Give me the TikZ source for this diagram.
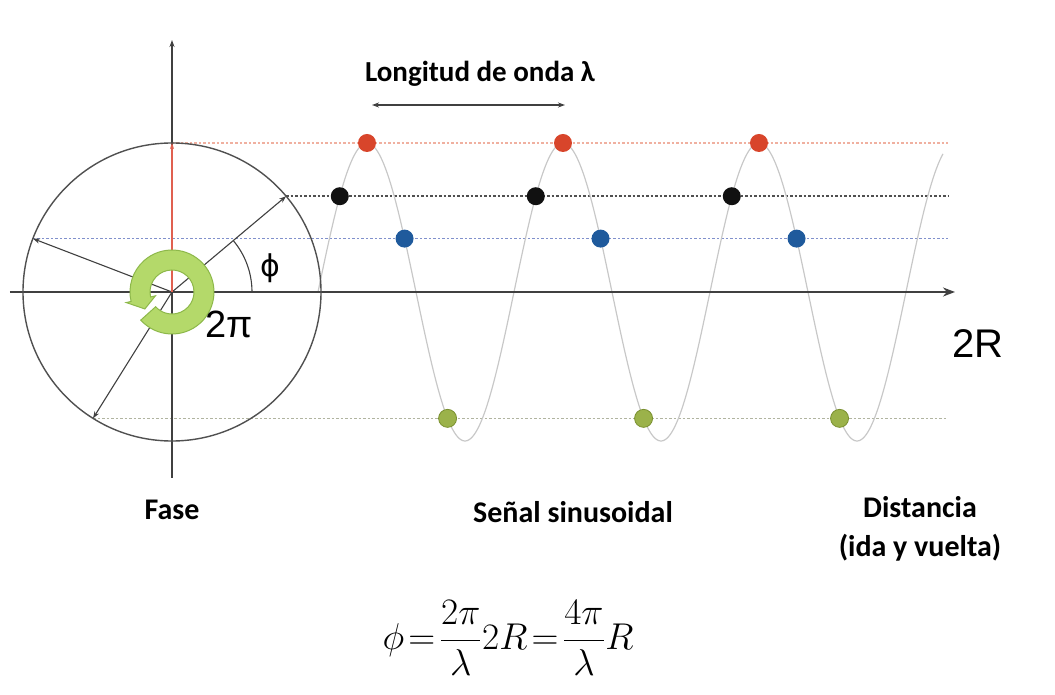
\documentclass[tikz,border=0pt]{standalone}
\usepackage{graphicx}
\usepackage{fontspec}
\newfontfamily\lblfont{Carlito}
\newfontfamily\arialfont{Liberation Sans}
\newfontfamily\dejafont{DejaVu Sans}
\usetikzlibrary{arrows.meta}
\definecolor{axisc}{HTML}{404040}
\definecolor{circc}{HTML}{505050}
\definecolor{redln}{HTML}{E06050}
\definecolor{reddot}{HTML}{D8452B}
\definecolor{blkdot}{HTML}{111111}
\definecolor{bludot}{HTML}{1F5A9C}
\definecolor{grndot}{HTML}{9BB24A}
\definecolor{grnedge}{HTML}{7A9030}
\definecolor{ringfill}{HTML}{B4D96A}
\definecolor{ringedge}{HTML}{8DB84A}
\definecolor{wavec}{HTML}{C8C8C8}
\definecolor{dotred}{HTML}{F0B0A0}
\definecolor{dotblk}{HTML}{505050}
\definecolor{dotblu}{HTML}{8090CC}
\definecolor{dotgrn}{HTML}{B0B4A0}
\begin{document}
\begin{tikzpicture}[x=1pt,y=1pt,
  axisline/.style={draw=axisc,line width=1.4pt},
  radarrow/.style={draw=axisc,line width=1.1pt,-{Stealth[length=7pt,width=5pt]}},
  dotline/.style={line width=1.6pt,dash pattern=on 2.5pt off 2pt},
  wavestyle/.style={draw=wavec,line width=1.2pt},
  dotnode/.style={circle,inner sep=0pt,minimum size=18pt},
  lbl/.style={font=\lblfont\bfseries\fontsize{30}{36}\selectfont,inner sep=0pt},
  sans/.style={font=\arialfont\fontsize{38}{44}\selectfont,inner sep=0pt}
]
\useasboundingbox (-172,-403) rectangle (883,292);
\pgfmathsetmacro{\kk}{196/360}
% dotted levels
\coordinate (rs) at (90:149pt);
\coordinate (bs) at (40:149pt);
\coordinate (ls) at (159:149pt);
\coordinate (gs) at (238:149pt);
\coordinate (re) at (776,{149*sin(90)});
\coordinate (be) at (776,{149*sin(40)});
\coordinate (le) at (776,{149*sin(159)});
\coordinate (ge) at (776,{149*sin(238)});
\draw[dotline,draw=dotred] (rs) -- (re);
\draw[dotline,draw=dotblk] (bs) -- (be);
\draw[dotline,draw=dotblu] (ls) -- (le);
\draw[dotline,draw=dotgrn] (gs) -- (ge);
% wave
\draw[wavestyle] plot[domain=0:1148,samples=400,smooth] ({146+\x*\kk},{149*sin(\x)});
% axes
\coordinate (o) at (0,0);
\coordinate (xl) at (-162,0);
\coordinate (xr) at (783,0);
\coordinate (yb) at (0,-186);
\coordinate (yt) at (0,252);
\draw[axisline,line width=2.2pt,-{Stealth[length=12pt,width=9pt]}] (xl) -- (xr);
\draw[axisline,-{Stealth[length=7pt,width=5pt]}] (yb) -- (yt);
% circle
\node[draw=circc,line width=1.4pt,circle,minimum size=298pt,inner sep=0pt] (circ) at (o) {};
% radius arrows
\draw[radarrow] (o) -- (bs);
\draw[radarrow] (o) -- (ls);
\draw[radarrow] (o) -- (gs);
\draw[draw=redln,line width=1.4pt,-{Stealth[length=6pt,width=4pt]}] (o) -- (rs);
% angle arc
\draw[draw=axisc,line width=1.1pt] (80pt,0) arc[start angle=0,end angle=40,radius=80pt];
\node[font=\dejafont\fontsize{30}{36}\selectfont,inner sep=0pt] (phil) at (98,24) {ϕ};
% green ring arrow
\filldraw[fill=ringfill,draw=ringedge,line width=1pt]
  (-138:42pt) arc[start angle=-138,end angle=193,radius=42pt]
  -- (193:47pt) -- (212:32pt) -- (193:17pt) -- (193:22pt)
  arc[start angle=193,end angle=-138,radius=22pt] -- cycle;
\node[sans,anchor=base west] (twopi) at (33,-46) {2π};
\node[sans,font=\arialfont\fontsize{40}{46}\selectfont,anchor=base west] (twoR) at (780,-66) {2R};
% dots
\foreach \k in {0,1,2}{
  \node[dotnode,fill=reddot] (r\k) at ({146+(90+360*\k)*\kk},{149*sin(90)}) {};
  \node[dotnode,fill=blkdot] (b\k) at ({146+(40+360*\k)*\kk},{149*sin(40)}) {};
  \node[dotnode,fill=bludot] (l\k) at ({146+(159+360*\k)*\kk},{149*sin(159)}) {};
  \node[dotnode,fill=grndot,draw=grnedge,line width=0.8pt] (g\k) at ({146+(238+360*\k)*\kk},{149*sin(238)}) {};
}
% wavelength
\coordinate (la) at (200,187);
\coordinate (lb) at (393,187);
\draw[draw=axisc,line width=1.4pt,{Stealth[length=7pt,width=5pt]}-{Stealth[length=7pt,width=5pt]}] (la) -- (lb);
\node[lbl,font=\lblfont\bfseries\fontsize{29}{34}\selectfont,anchor=base] (lam) at (308,210) {Longitud de onda λ};
% labels
\node[lbl,anchor=base] (fase) at (0,-228) {Fase};
\node[lbl,anchor=base] (senal) at (401,-231) {Señal sinusoidal};
\node[lbl,anchor=base] (dist) at (748,-226) {Distancia};
\node[lbl,anchor=base] (ida) at (748,-265) {(ida y vuelta)};
% formula
\node[inner sep=0pt,anchor=base] (form) at (336,-358)
  {\scalebox{1.5}{\fontsize{24.88}{30}\selectfont\thickmuskip=2mu$\displaystyle \phi=\frac{2\pi}{\lambda}2R=\frac{4\pi}{\lambda}R$}};
\end{tikzpicture}
\end{document}
